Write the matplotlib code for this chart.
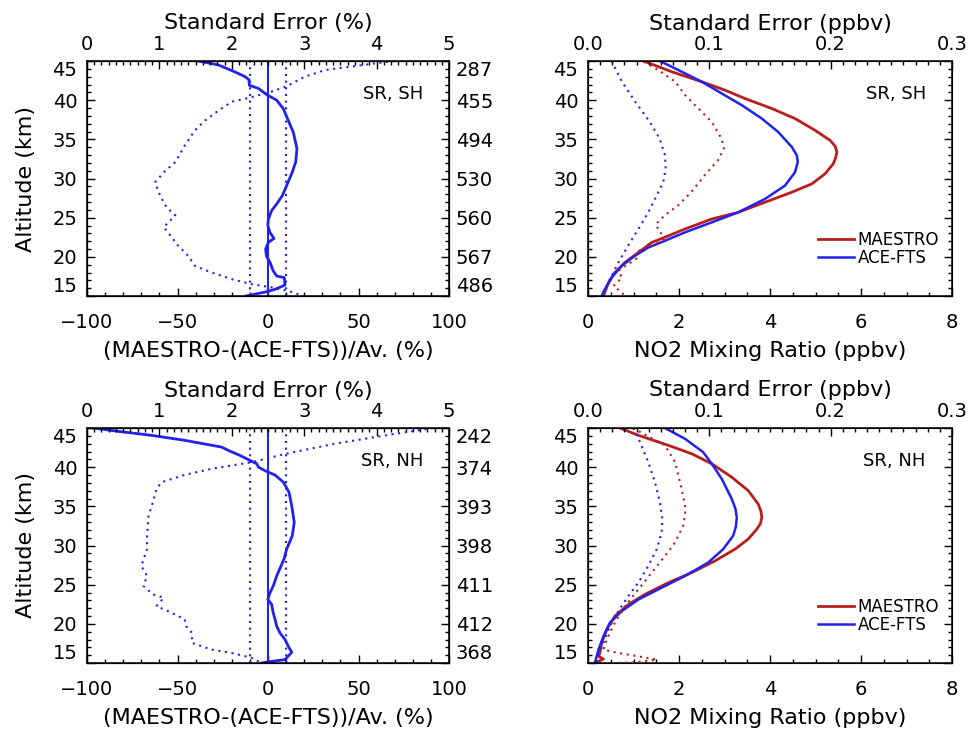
import matplotlib
matplotlib.use("Agg")
import matplotlib.pyplot as plt
from matplotlib.ticker import MultipleLocator, FormatStrFormatter

plt.rcParams['font.family'] = ['DejaVu Sans']

# ---------------- data ----------------
alt_ticks = [15, 20, 25, 30, 35, 40, 45]
sh_counts = ['486', '567', '560', '530', '494', '455', '287']
nh_counts = ['368', '412', '411', '398', '393', '374', '242']
ref_lines = [-10, 10]

# Left panels: relative difference (%) and standard error (%)
alt_sh_diff = [45.0, 44.5, 43.6, 43.0, 42.6, 41.9, 41.5, 40.7, 40.0, 38.9, 37.4, 35.9, 33.8,
               32.1, 30.8, 29.1, 27.8, 26.75, 25.9, 24.8, 24.0, 23.1, 22.35, 21.85, 21.0,
               20.1, 19.3, 18.2, 17.55, 17.35, 16.4, 15.85, 15.5, 15.0]
sh_diff = [-38.5, -27.5, -18.2, -12.7, -10.5, -10.3, -5.3, -0.7, 4.8, 8.5, 11.2, 14.0, 16.0,
           15.3, 13.4, 10.3, 7.9, 4.8, 2.0, 0.2, -0.1, 1.1, 3.3, 0.2, -1.3,
           -0.9, 1.1, 2.9, 4.8, 9.0, 9.4, 3.9, -1.7, -12.3]

alt_sh_se = [45.0, 44.7, 44.3, 43.85, 43.0, 41.7, 41.1, 40.4, 39.8, 38.7, 37.4, 36.15, 34.2,
             32.1, 30.8, 29.5, 27.8, 26.3, 25.3, 23.8, 21.4, 20.1, 18.85, 18.0, 17.15, 16.5,
             16.1, 15.65, 15.0]
sh_se = [4.25, 3.98, 3.66, 3.29, 3.01, 2.74, 2.55, 2.28, 2.0, 1.82, 1.63, 1.49, 1.35,
         1.22, 1.06, 0.94, 1.01, 1.10, 1.22, 1.06, 1.26, 1.40, 1.49, 1.72, 2.0, 2.28,
         2.55, 2.78, 2.99]

alt_nh_diff = [45.0, 44.57, 44.06, 43.42, 42.56, 42.14, 41.5, 40.85, 40.43, 40.0, 39.44, 39.0,
               38.08, 36.8, 35.09, 32.95, 31.24, 29.53, 28.25, 27.39, 26.11, 24.83, 23.97,
               23.12, 22.48, 21.41, 20.56, 19.7, 18.85, 17.99, 17.14, 16.37, 15.43, 15.09, 15.0]
nh_diff = [-96.5, -82.7, -64.3, -45.9, -25.6, -21.9, -15.5, -9.9, -6.2, -5.3, -0.7, 3.9,
           8.5, 11.6, 13.1, 14.5, 13.4, 10.3, 8.8, 7.2, 4.8, 2.9, 1.1,
           -0.1, 2.0, 2.9, 3.9, 4.8, 6.6, 9.4, 11.2, 13.1, 9.4, -1.7, -3.5]

alt_nh_se = [45.0, 44.06, 43.0, 41.7, 40.64, 39.79, 39.02, 38.08, 37.22, 35.51, 33.8, 31.24,
             29.53, 27.39, 26.11, 24.83, 23.76, 23.33, 22.26, 21.41, 20.56, 19.7, 18.85,
             17.56, 16.71, 16.28, 15.64, 15.0]
nh_se = [4.78, 4.12, 3.43, 2.74, 2.28, 1.72, 1.35, 1.03, 0.96, 0.91, 0.85, 0.83,
         0.83, 0.75, 0.83, 0.78, 0.91, 1.06, 0.96, 1.17, 1.35, 1.37, 1.45,
         1.45, 1.72, 2.0, 2.28, 2.41]

# Right panels: NO2 mixing ratio (ppbv) and standard error (ppbv)
alt_sh_m = [45.0, 43.63, 42.35, 41.28, 40.21, 38.93, 37.65, 36.15, 34.87, 34.14, 33.38, 32.6,
            31.88, 30.6, 29.32, 28.25, 26.97, 25.68, 24.83, 23.55, 22.69, 21.84, 20.56, 19.27,
            17.99, 16.71, 15.0]
sh_maestro = [1.22, 1.84, 2.50, 3.01, 3.45, 4.04, 4.55, 4.99, 5.32, 5.43, 5.47, 5.44,
              5.39, 5.21, 4.92, 4.48, 3.89, 3.30, 2.72, 2.13, 1.77, 1.40, 1.11, 0.81,
              0.59, 0.45, 0.34]
alt_sh_a = [45.0, 43.63, 42.35, 40.85, 39.36, 37.65, 35.94, 34.02, 32.95, 32.1, 30.8, 29.1,
            27.39, 25.68, 24.40, 23.12, 22.05, 21.2, 20.13, 18.85, 17.35, 15.85, 15.0]
sh_ace = [1.58, 2.06, 2.50, 2.94, 3.38, 3.82, 4.18, 4.48, 4.59, 4.61, 4.55, 4.33,
          3.89, 3.30, 2.72, 2.13, 1.69, 1.33, 1.03, 0.74, 0.52, 0.37, 0.30]
alt_sh_mse = [44.9, 43.85, 42.35, 40.64, 38.93, 37.22, 35.09, 33.8, 32.31, 30.38, 28.25, 26.54,
              25.26, 24.19, 23.12, 22.48, 21.41, 20.56, 19.92, 19.06, 18.21, 17.35, 16.28,
              15.43, 15.0]
sh_maestro_se = [0.046, 0.058, 0.072, 0.080, 0.091, 0.102, 0.110, 0.112, 0.107, 0.096, 0.085,
                 0.074, 0.063, 0.056, 0.059, 0.066, 0.0525, 0.0387, 0.0415, 0.033, 0.025,
                 0.028, 0.021, 0.028, 0.030]
alt_sh_ase = [45.0, 42.35, 39.79, 37.22, 35.09, 32.95, 31.24, 29.53, 27.82, 25.68, 23.55,
              21.41, 19.27, 17.14, 15.43, 15.0]
sh_ace_se = [0.0195, 0.028, 0.039, 0.051, 0.059, 0.0635, 0.064, 0.062, 0.0566, 0.0497,
             0.0415, 0.033, 0.025, 0.018, 0.0126, 0.010]

alt_nh_m = [45.0, 44.06, 42.78, 41.71, 40.43, 38.72, 37.01, 35.3, 34.4, 33.59, 32.8, 32.09,
            30.81, 29.53, 28.03, 26.54, 25.26, 23.76, 22.48, 20.98, 19.27, 17.56, 16.28,
            15.85, 15.51, 15.21, 15.0]
nh_maestro = [0.70, 1.11, 1.77, 2.28, 2.72, 3.16, 3.52, 3.74, 3.80, 3.82, 3.79, 3.71,
              3.52, 3.23, 2.79, 2.28, 1.77, 1.25, 0.89, 0.59, 0.41, 0.30, 0.26,
              0.23, 0.34, 0.23, 0.15]
alt_nh_a = [45.0, 43.63, 41.92, 40.43, 38.5, 35.94, 34.7, 33.59, 32.4, 31.24, 29.53, 27.82,
            26.11, 24.62, 23.12, 21.62, 20.13, 18.42, 16.71, 15.0]
nh_ace = [1.69, 2.13, 2.53, 2.72, 2.94, 3.16, 3.24, 3.27, 3.25, 3.19, 2.97, 2.64,
          2.13, 1.62, 1.11, 0.74, 0.48, 0.34, 0.23, 0.15]
alt_nh_mse = [45.0, 44.27, 42.78, 40.64, 37.22, 34.66, 32.52, 30.38, 28.68, 26.54, 24.4, 22.26,
              20.13, 17.99, 16.71, 16.28, 15.85, 15.43, 15.09, 15.0]
nh_maestro_se = [0.037, 0.0456, 0.0635, 0.0717, 0.0772, 0.0805, 0.0785, 0.0717, 0.0635,
                 0.0525, 0.0415, 0.0305, 0.022, 0.0154, 0.0126, 0.025, 0.0415, 0.0566,
                 0.0387, 0.021]
alt_nh_ase = [45.0, 43.2, 40.64, 38.08, 35.51, 33.38, 31.67, 29.53, 27.39, 25.26, 23.55,
              21.62, 19.7, 17.56, 15.85, 15.0]
nh_ace_se = [0.0373, 0.0429, 0.0497, 0.0552, 0.0593, 0.0612, 0.0607, 0.0566, 0.0497, 0.0415,
             0.0332, 0.025, 0.018, 0.0126, 0.0086, 0.0073]

# ---------------- style ----------------
BLUE = '#2222ee'
RED = '#b81e1e'
DOT = (0, (1, 2.2))
TICK_FS = 14
LAB_FS = 16
W, H = 974, 736

fig = plt.figure(figsize=(W / 100, H / 100), dpi=100)


def rect(x0, y0, x1, y1):
    return [x0 / W, 1 - y1 / H, (x1 - x0) / W, (y1 - y0) / H]


def style_ticks(axis_obj, **kw):
    axis_obj.tick_params(which='both', direction='in', width=1.0, labelsize=TICK_FS, **kw)
    axis_obj.tick_params(which='major', length=5.5)
    axis_obj.tick_params(which='minor', length=2.8)


def shift_end_labels(labels):
    labels[0].set_va('bottom')
    labels[-1].set_va('top')


def setup_alt(ax):
    ax.set_ylim(15, 45)
    ax.set_yticks(alt_ticks)
    ax.yaxis.set_minor_locator(MultipleLocator(1))


def left_panel(r, alt_d, diff, alt_s, se, counts, tag):
    ax = fig.add_axes(r)
    ax.set_xlim(-100, 100)
    setup_alt(ax)
    ax.axvline(0, color=BLUE, lw=1.5)
    for v in ref_lines:
        ax.axvline(v, color=BLUE, lw=1.5, ls=DOT)
    ax.plot(diff, alt_d, color=BLUE, lw=2.0, solid_joinstyle='round')
    ax.set_xticks([-100, -50, 0, 50, 100])
    ax.xaxis.set_minor_locator(MultipleLocator(10))
    style_ticks(ax, bottom=True, left=True, top=False, right=False)
    ax.tick_params(axis='y', pad=7)
    ax.tick_params(axis='x', pad=12)
    shift_end_labels(ax.get_yticklabels())
    ax.set_xlabel('(MAESTRO-(ACE-FTS))/Av. (%)', fontsize=LAB_FS, labelpad=7)
    ax.set_ylabel('Altitude (km)', fontsize=LAB_FS, labelpad=12)
    ax.text(0.93, 0.86, tag, transform=ax.transAxes, ha='right', va='center', fontsize=13)

    axt = ax.twiny()
    axt.set_xlim(0, 5)
    axt.plot(se, alt_s, color=BLUE, lw=1.5, ls=DOT)
    axt.xaxis.set_major_locator(MultipleLocator(1))
    axt.xaxis.set_minor_locator(MultipleLocator(0.1))
    style_ticks(axt, top=True, bottom=False)
    axt.tick_params(axis='x', pad=5)
    axt.set_xlabel('Standard Error (%)', fontsize=LAB_FS, labelpad=4)

    axr = ax.twinx()
    setup_alt(axr)
    axr.set_yticklabels(counts)
    style_ticks(axr, right=True, left=False)
    axr.tick_params(axis='y', pad=5)
    shift_end_labels(axr.get_yticklabels())
    for s in ax.spines.values():
        s.set_linewidth(1.1)
    return ax


def right_panel(r, alt_m, mae, alt_a, ace, alt_ms, mae_se, alt_as, ace_se, tag):
    ax = fig.add_axes(r)
    ax.set_xlim(0, 8)
    setup_alt(ax)
    ax.plot(mae, alt_m, color=RED, lw=2.0, label='MAESTRO', solid_joinstyle='round')
    ax.plot(ace, alt_a, color=BLUE, lw=1.8, label='ACE-FTS', solid_joinstyle='round')
    ax.set_xticks([0, 2, 4, 6, 8])
    ax.xaxis.set_minor_locator(MultipleLocator(0.5))
    style_ticks(ax, bottom=True, left=True, right=True, top=False, labelright=False)
    ax.tick_params(axis='y', pad=7)
    ax.tick_params(axis='x', pad=12)
    shift_end_labels(ax.get_yticklabels())
    ax.set_xlabel('NO2 Mixing Ratio (ppbv)', fontsize=LAB_FS, labelpad=7)
    ax.text(0.928, 0.86, tag, transform=ax.transAxes, ha='right', va='center', fontsize=13)
    ax.legend(loc='lower right', bbox_to_anchor=(0.965, 0.125), frameon=False,
              fontsize=12, handlelength=2.15, handletextpad=0.25, labelspacing=0.0,
              borderpad=0, borderaxespad=0)

    axt = ax.twiny()
    axt.set_xlim(0, 0.3)
    axt.plot(mae_se, alt_ms, color=RED, lw=1.5, ls=DOT)
    axt.plot(ace_se, alt_as, color=BLUE, lw=1.5, ls=DOT)
    axt.xaxis.set_major_locator(MultipleLocator(0.1))
    axt.xaxis.set_minor_locator(MultipleLocator(0.01))
    axt.xaxis.set_major_formatter(FormatStrFormatter('%.1f'))
    style_ticks(axt, top=True, bottom=False)
    axt.tick_params(axis='x', pad=5)
    axt.set_xlabel('Standard Error (ppbv)', fontsize=LAB_FS, labelpad=4)
    for s in ax.spines.values():
        s.set_linewidth(1.1)
    return ax


left_panel(rect(87, 61, 449, 296), alt_sh_diff, sh_diff, alt_sh_se, sh_se, sh_counts, 'SR, SH')
right_panel(rect(588, 61, 952, 296), alt_sh_m, sh_maestro, alt_sh_a, sh_ace,
            alt_sh_mse, sh_maestro_se, alt_sh_ase, sh_ace_se, 'SR, SH')
left_panel(rect(87, 428, 449, 663), alt_nh_diff, nh_diff, alt_nh_se, nh_se, nh_counts, 'SR, NH')
right_panel(rect(588, 428, 952, 663), alt_nh_m, nh_maestro, alt_nh_a, nh_ace,
            alt_nh_mse, nh_maestro_se, alt_nh_ase, nh_ace_se, 'SR, NH')

fig.savefig('out.png', dpi=100)
